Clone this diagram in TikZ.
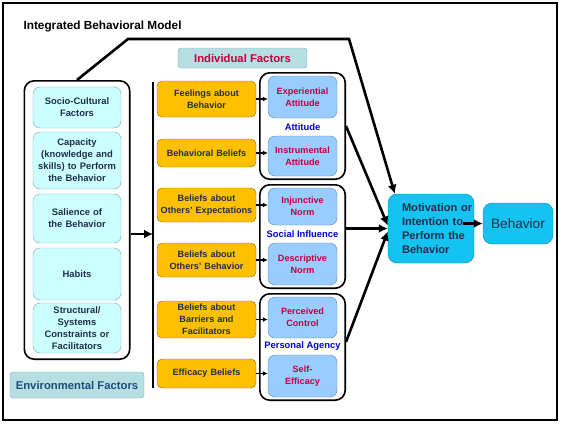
\documentclass[tikz,border=0pt]{standalone}
\usepackage{fontspec}
\setmainfont{Liberation Sans}
\usetikzlibrary{positioning,arrows.meta,calc,fit}
\definecolor{envfill}{HTML}{CCFFFF}
\definecolor{envline}{HTML}{6FA8B0}
\definecolor{labfill}{HTML}{B7DEE3}
\definecolor{labline}{HTML}{7FA9AE}
\definecolor{orfill}{HTML}{FFC000}
\definecolor{orline}{HTML}{8A6A10}
\definecolor{bluefill}{HTML}{99CCFF}
\definecolor{blueline}{HTML}{5A86B8}
\definecolor{motfill}{HTML}{14C3F0}
\definecolor{motline}{HTML}{1A7FB0}
\definecolor{redtext}{HTML}{C0003C}
\definecolor{navytext}{HTML}{1F2D4A}
\definecolor{envtext}{HTML}{1F4E79}
\begin{document}
\begin{tikzpicture}[x=1pt,y=-1pt,
   env/.style={draw=envline,fill=envfill,rounded corners=7pt,minimum width=88pt,text width=86pt,
     align=center,inner sep=0pt,font=\fontsize{9.4}{12}\selectfont\bfseries,text=navytext},
   orb/.style={draw=orline,fill=orfill,rounded corners=5pt,minimum width=99pt,text width=97pt,
     align=center,inner sep=0pt,font=\fontsize{9.1}{12}\selectfont\bfseries,text=navytext},
   att/.style={draw=blueline,fill=bluefill,rounded corners=7pt,minimum width=69pt,text width=67pt,
     align=center,inner sep=0pt,font=\fontsize{9.1}{11.7}\selectfont\bfseries,text=redtext},
   grp/.style={draw,line width=1.6pt,rounded corners=10pt,inner xsep=8pt,inner ysep=3pt},
   lab/.style={draw=labline,fill=labfill,rounded corners=3pt,inner sep=0pt,font=\bfseries},
   glab/.style={font=\fontsize{9.4}{10}\selectfont\bfseries,text=blue!80!black},
   mot/.style={draw=motline,fill=motfill,rounded corners=9pt,inner sep=0pt,text=navytext},
   big/.style={line width=2.6pt,-{Latex[length=9pt,width=9pt]}},
   small/.style={line width=1.4pt,-{Latex[length=5pt,width=5pt]}}]
  \useasboundingbox (0,0) rectangle (563,426);
  \draw[line width=2.6pt] (3,3) rectangle (557,420);
  \node[anchor=west,font=\fontsize{11.8}{13}\selectfont\bfseries] (title) at (20,26) {Integrated Behavioral Model};
  \node[env,minimum height=41pt] (sc)  at (77,107.5) {Socio-Cultural\\Factors};
  \node[env,minimum height=57pt] (cap) at (77,160.5) {Capacity\\(knowledge and\\skills) to Perform\\the Behavior};
  \node[env,minimum height=49pt] (sal) at (77,218.5) {Salience of\\the Behavior};
  \node[env,minimum height=52pt] (hab) at (77,274)   {Habits};
  \node[env,minimum height=50pt] (str) at (77,328)   {Structural/\\Systems\\Constraints or\\Facilitators};
  \node[grp,fit=(sc)(str),inner xsep=8.5pt,inner ysep=6pt] (envgrp) {};
  \node[lab,minimum width=134pt,minimum height=26pt,text=envtext,font=\fontsize{11.3}{12}\selectfont\bfseries] (envlab) at (77,385) {Environmental Factors};
  \node[lab,minimum width=129pt,minimum height=20pt,text=redtext,font=\fontsize{11.3}{12}\selectfont\bfseries] (indlab) at (242.5,58) {Individual Factors};
  \coordinate (vtop) at (153,82);
  \coordinate (vbot) at (153,388);
  \coordinate (vmid) at (153,234);
  \draw[line width=1.8pt] (vtop) -- (vbot);
  \draw[big] (envgrp.east |- vmid) -- (vmid);
  \node[orb,minimum height=36pt] (fb) at (206.5,99)    {Feelings about\\Behavior};
  \node[orb,minimum height=28pt] (bb) at (206.5,153)   {Behavioral Beliefs};
  \node[orb,minimum height=34pt] (oe) at (206.5,205)   {Beliefs about\\Others' Expectations};
  \node[orb,minimum height=34pt] (ob) at (206.5,260)   {Beliefs about\\Others' Behavior};
  \node[orb,minimum height=37pt] (bf) at (206.5,319.5) {Beliefs about\\Barriers and\\Facilitators};
  \node[orb,minimum height=29pt] (eb) at (206.5,373.5) {Efficacy Beliefs};
  \node[att,minimum height=42pt] (ea) at (302.5,97)    {Experiential\\Attitude};
  \node[att,minimum height=40pt] (ia) at (302.5,156)   {Instrumental\\Attitude};
  \node[att,minimum height=37pt] (in) at (302.5,206.5) {Injunctive\\Norm};
  \node[att,minimum height=42pt] (dn) at (302.5,264)   {Descriptive\\Norm};
  \node[att,minimum height=41pt] (pc) at (302.5,317.5) {Perceived\\Control};
  \node[att,minimum height=42pt] (se) at (302.5,376)   {Self-\\Efficacy};
  \node[grp,fit=(ea)(ia)] (attg) {};
  \node[grp,fit=(in)(dn)] (socg) {};
  \node[grp,fit=(pc)(se)] (pag) {};
  \node[glab] at ($(ea.south)!0.5!(ia.north)$) {Attitude};
  \node[glab] at ($(in.south)!0.5!(dn.north)$) {Social Influence};
  \node[glab] at ($(pc.south)!0.5!(se.north)$) {Personal Agency};
  \draw[small] (fb.east) -- (fb.east -| ea.west);
  \draw[small] (bb.east) -- (bb.east -| ia.west);
  \draw[small] (oe.east) -- (oe.east -| in.west);
  \draw[small] (ob.east) -- (ob.east -| dn.west);
  \draw[small] (bf.east) -- (bf.east -| pc.west);
  \draw[small] (eb.east) -- (eb.east -| se.west);
  \node[mot,minimum width=86pt,minimum height=69pt,text width=58pt,align=left,
    font=\fontsize{11.1}{13.7}\selectfont\bfseries] (motiv) at (431,228.5)
    {\mbox{Motivation or}\\\mbox{Intention to}\\\mbox{Perform the}\\\mbox{Behavior}};
  \node[mot,minimum width=70pt,minimum height=41pt,font=\fontsize{13.6}{15}\selectfont] (beh) at (518,223.5) {Behavior};
  \coordinate (c1) at (128,39);
  \coordinate (c2) at (349,39);
  \draw[big] (envgrp.north) -- (c1) -- (c2) -- ([xshift=7pt]motiv.north west);
  \draw[big] (attg.east) -- ([yshift=3pt]motiv.west);
  \draw[big] (socg.east |- motiv.west) -- (motiv.west);
  \draw[big] ([yshift=5pt]pag.east) -- ([yshift=-3pt]motiv.west);
  \draw[big] ([xshift=-11pt]motiv.east |- beh.west) -- (beh.west);
\end{tikzpicture}
\end{document}
